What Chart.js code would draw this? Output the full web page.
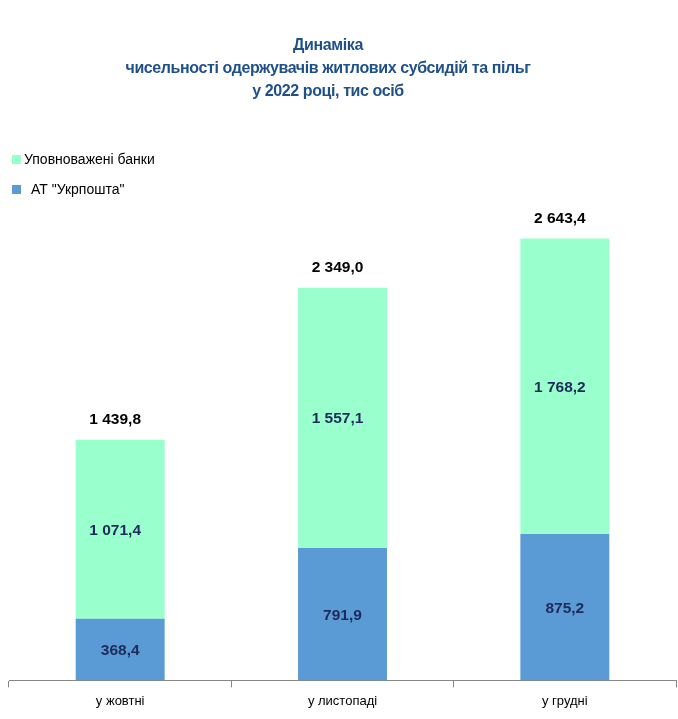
<!DOCTYPE html>
<html>
<head>
<meta charset="utf-8">
<script src="https://cdn.jsdelivr.net/npm/chart.js@4"></script>
<style>
body{margin:0;background:#fff;font-family:"Liberation Sans",Arial,sans-serif;}
#wrap{position:relative;width:678px;height:719px;}
#title{position:absolute;left:0;width:656px;top:33px;text-align:center;color:#1F5088;font-weight:bold;font-size:16px;line-height:23px;letter-spacing:-0.4px;}
.leg{position:absolute;left:12px;font-size:14px;color:#000;}
.leg span{display:inline-block;width:9px;height:9px;margin-right:3px;}
canvas{position:absolute;left:0;top:0;}
</style>
</head>
<body>
<div id="wrap">
<canvas id="c" width="678" height="719"></canvas>
<div id="title">Динаміка<br>чисельності одержувачів житлових субсидій та пільг<br>у 2022 році, тис осіб</div>
<div class="leg" style="top:151px"><span style="background:#99FFCC"></span>Уповноважені банки</div>
<div class="leg" style="top:181px"><span style="background:#5B9BD5;margin-right:10px"></span>АТ "Укрпошта"</div>
</div>
<script>
let months = ["у жовтні","у листопаді","у грудні"];
let ukrposhta = [368.4, 791.9, 875.2];
let banks = [1071.4, 1557.1, 1768.2];
let totals = [1439.8, 2349.0, 2643.4];

function fmt(v){
let s = v.toFixed(1).replace(".", ",");
let parts = s.split(",");
parts[0] = parts[0].replace(/\B(?=(\d{3})+(?!\d))/g, " ");
return parts.join(",");
}

/* excel-style labels: values with a thousands gap sit a bit left */
function shiftX(v){
return v >= 1000 ? -5 : 0;
}

const valueLabels = {
id:"valueLabels",
afterDatasetsDraw(chart){
let ctx = chart.ctx;
ctx.save();
ctx.font = "bold 15.5px 'Liberation Sans', Arial";
ctx.textAlign = "center";
ctx.textBaseline = "middle";
chart.data.datasets.forEach((ds,i)=>{
chart.getDatasetMeta(i).data.forEach((bar,j)=>{
ctx.fillStyle = "#1F2A5C";
ctx.fillText(fmt(ds.data[j]), bar.x + shiftX(ds.data[j]), (bar.y + bar.base)/2 + 1);
});
});
let top = chart.getDatasetMeta(1).data;
top.forEach((bar,j)=>{
ctx.fillStyle = "#000";
ctx.fillText(fmt(totals[j]), bar.x + shiftX(totals[j]), bar.y - 20);
});
ctx.restore();
}
};

new Chart(document.getElementById("c").getContext("2d"),{
type:"bar",
data:{
labels:months,
datasets:[
{label:'АТ "Укрпошта"', data:ukrposhta, backgroundColor:"#5B9BD5"},
{label:"Уповноважені банки", data:banks, backgroundColor:"#99FFCC"}
]
},
options:{
responsive:false,
animation:false,
layout:{padding:{top:179,left:9,right:2,bottom:4}},
categoryPercentage:0.8,
barPercentage:0.5,
plugins:{legend:{display:false},title:{display:false},tooltip:{enabled:false}},
scales:{
x:{
stacked:true,
grid:{drawOnChartArea:false,drawTicks:true,tickLength:7,color:"#868686",offset:true},
border:{color:"#868686"},
ticks:{color:"#000",font:{family:"'Liberation Sans Narrow', 'Liberation Sans', Arial",size:13},padding:6}
},
y:{stacked:true,display:false,min:0,max:3000}
}
},
plugins:[valueLabels]
});
</script>
</body>
</html>
